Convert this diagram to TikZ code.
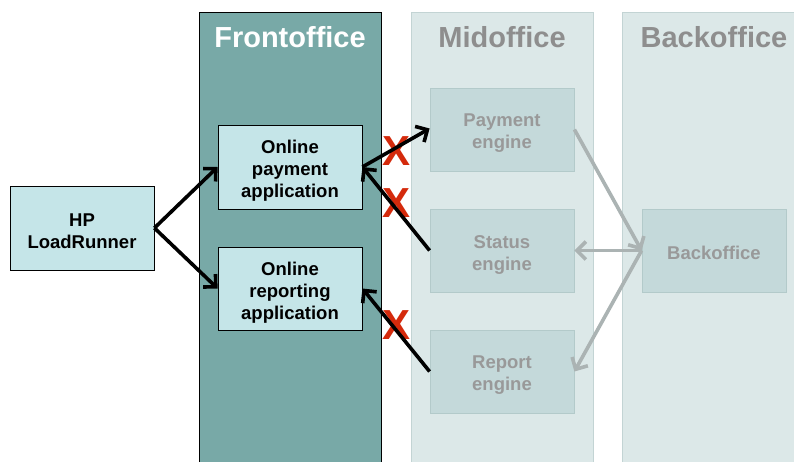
\documentclass[tikz,border=0pt]{standalone}
\usepackage{fontspec}
\setmainfont{Liberation Sans}
\usetikzlibrary{arrows.meta}
\definecolor{fteal}{HTML}{78A9A7}
\definecolor{boxlight}{HTML}{C5E5E8}
\definecolor{colfill}{HTML}{DCE8E8}
\definecolor{colborder}{HTML}{C3D4D4}
\definecolor{midfill}{HTML}{C4D9DA}
\definecolor{midborder}{HTML}{B3CACA}
\definecolor{graytext}{HTML}{999999}
\definecolor{graytitle}{HTML}{8E8E8E}
\definecolor{grayarrow}{HTML}{ABB3B3}
\definecolor{crossred}{HTML}{D42A0C}
\begin{document}
\begin{tikzpicture}[x=1pt,y=-1pt,
  frontbox/.style={draw=black, line width=0.8pt, fill=boxlight, minimum width=144pt, minimum height=84pt, inner sep=0pt},
  midbox/.style={draw=midborder, line width=0.8pt, fill=midfill, minimum width=144pt, minimum height=83pt, inner sep=0pt},
  fronttext/.style={align=center, font=\bfseries\fontsize{18.5}{22}\selectfont, text=black, inner sep=0pt},
  midtext/.style={align=center, font=\bfseries\fontsize{18.5}{22}\selectfont, text=graytext, inner sep=0pt},
  coltitle/.style={font=\bfseries\fontsize{29}{34}\selectfont, inner sep=0pt},
  blackarrow/.style={line width=3.6pt, draw=black, -{Straight Barb[length=9pt,width=18pt]}},
  grayarrow/.style={line width=3.6pt, draw=grayarrow, -{Straight Barb[length=9pt,width=18pt]}},
  crossmark/.style={text=crossred, font=\bfseries\fontsize{42}{42}\selectfont, inner sep=0pt}
]
\useasboundingbox (0,0) rectangle (794,461);
\clip (0,0) rectangle (794,461);
% columns
\fill[fteal, draw=black, line width=0.8pt] (199,12) rectangle (381,470);
\fill[colfill, draw=colborder, line width=0.8pt] (411,12) rectangle (593,470);
\fill[colfill, draw=colborder, line width=0.8pt] (622,12) rectangle (810,470);
% titles
\node[coltitle, text=white] (tfront) at (290,37) {Frontoffice};
\node[coltitle, text=graytitle] (tmid) at (502,37) {Midoffice};
\node[coltitle, text=graytitle] (tback) at (714,37) {Backoffice};
% boxes
\node[frontbox] (hp) at (82,228) {};
\node[frontbox] (payapp) at (290,167) {};
\node[frontbox, minimum height=83pt] (repapp) at (290,288.5) {};
\node[midbox] (payeng) at (502,129.5) {};
\node[midbox] (stateng) at (502,250.5) {};
\node[midbox] (repeng) at (502,371.5) {};
\node[midbox] (back) at (714,250.5) {};
% box texts
\node[fronttext] (hpt) at ([yshift=-3pt]hp.center) {HP\\LoadRunner};
\node[fronttext] (payappt) at ([yshift=-4pt]payapp.center) {Online\\payment\\application};
\node[fronttext] (repappt) at ([yshift=-4pt]repapp.center) {Online\\reporting\\application};
\node[midtext] (payengt) at ([yshift=-4pt]payeng.center) {Payment\\engine};
\node[midtext] (statengt) at ([yshift=-4pt]stateng.center) {Status\\engine};
\node[midtext] (repengt) at ([yshift=-4pt]repeng.center) {Report\\engine};
\node[midtext] (backt) at ([yshift=-2pt]back.center) {Backoffice};
% crosses
\node[crossmark] (x1) at (397,151) {X};
\node[crossmark] (x2) at (397,203) {X};
\node[crossmark] (x3) at (397,325) {X};
% black arrows
\draw[blackarrow] (hp.east) -- (payapp.west);
\draw[blackarrow] (hp.east) -- (repapp.west);
\draw[blackarrow] (payapp.east) -- ([yshift=1pt]payeng.west);
\draw[blackarrow] (stateng.west) -- (payapp.east);
\draw[blackarrow] (repeng.west) -- (repapp.east);
% gray arrows
\draw[grayarrow] (payeng.east) -- (back.west);
\draw[grayarrow] (back.west) -- (stateng.east);
\draw[grayarrow] (back.west) -- (repeng.east);
\end{tikzpicture}
\end{document}
